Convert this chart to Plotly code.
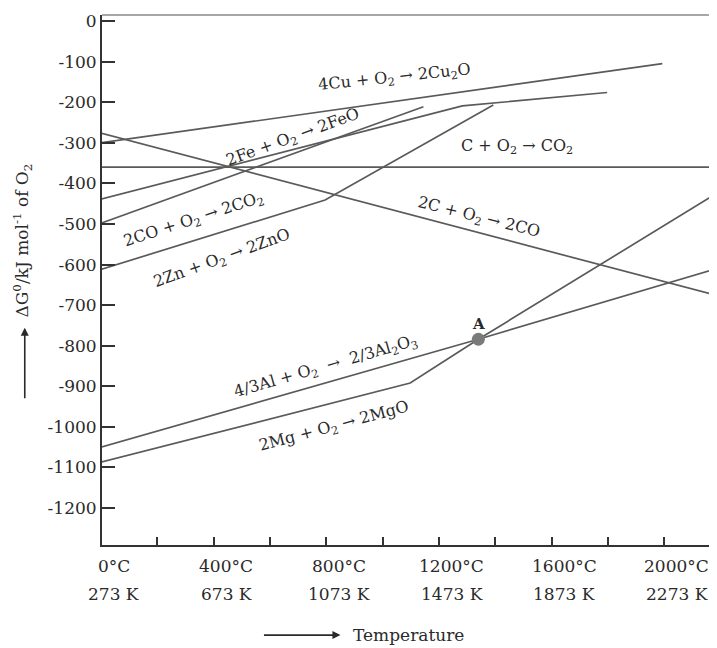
import plotly.graph_objects as go

# ---------------- data (temperature in °C, ΔG° in kJ mol-1 of O2) ----------------
cu_T = [0, 1993]
cu_G = [-300, -105]

fe_T = [0, 1283, 1797]
fe_G = [-439, -209, -176]

c_co2_T = [0, 2180]
c_co2_G = [-360, -360]

c_co_T = [0, 2180]
c_co_G = [-276, -675]

co_T = [0, 1145]
co_G = [-498, -211]

zn_T = [0, 796, 1393]
zn_G = [-612, -441, -207]

al_T = [0, 1340, 2180]
al_G = [-1050, -784, -611]

mg_T = [0, 1098, 1340, 2180]
mg_G = [-1087, -892, -784, -427]

point_A_T = [1340]
point_A_G = [-784]

y_ticks = [0, -100, -200, -300, -400, -500, -600, -700, -800, -900, -1000, -1100, -1200]
y_ticktext = ["0", "-100", "-200", "-300", "-400", "-500", "-600", "-700", "-800",
              "-900", "-1000", "-1100", "-1200"]
x_minor_ticks = [200, 400, 600, 800, 1000, 1200, 1400, 1600, 1800, 2000]
x_label_T = [0, 400, 800, 1200, 1600, 2000]
x_label_C = ["0°C", "400°C", "800°C", "1200°C", "1600°C", "2000°C"]
x_label_K = ["273 K", "673 K", "1073 K", "1473 K", "1873 K", "2273 K"]

NB = "\u00a0"
reaction_labels = [
    "4Cu + O<sub>2</sub> → 2Cu<sub>2</sub>O",
    "2Fe + O<sub>2</sub> → 2FeO",
    "C + O<sub>2</sub> → CO<sub>2</sub>",
    "2C + O<sub>2</sub> → 2CO",
    "2CO + O<sub>2</sub> → 2CO<sub>2</sub>",
    "2Zn + O<sub>2</sub> → 2ZnO",
    "4/3Al + O<sub>2</sub>" + NB * 2 + "→" + NB * 2 + "2/3Al<sub>2</sub>O<sub>3</sub>",
    "2Mg + O<sub>2</sub>" + NB + "→" + NB + "2MgO",
]
# label anchor positions (°C, kJ) and angles -- styling/placement
label_pos = [(1044, -140, -6), (682, -288, -20), (1477, -310, 0), (1342, -485, 14),
             (331, -490, -18), (430, -584, -20), (799, -852, -16), (828, -1000, -15)]

FONT = "DejaVu Serif"
LINE_COLOR = "#5a5a5a"
TEXT_COLOR = "#2a2a2a"

fig = go.Figure()
for T, G in [(cu_T, cu_G), (fe_T, fe_G), (c_co2_T, c_co2_G), (c_co_T, c_co_G),
             (co_T, co_G), (zn_T, zn_G), (al_T, al_G), (mg_T, mg_G)]:
    fig.add_trace(go.Scatter(x=T, y=G, mode="lines",
                             line=dict(color=LINE_COLOR, width=1.7),
                             showlegend=False, hoverinfo="skip"))

fig.add_trace(go.Scatter(x=point_A_T, y=point_A_G, mode="markers",
                         marker=dict(size=13, color="#7a7a7a"),
                         showlegend=False, hoverinfo="skip"))

annotations = []
for text, (x, y, ang) in zip(reaction_labels, label_pos):
    annotations.append(dict(x=x, y=y, xref="x", yref="y", text=text, showarrow=False,
                            textangle=ang, font=dict(family=FONT, size=16, color=TEXT_COLOR)))

annotations.append(dict(x=point_A_T[0], y=point_A_G[0] + 38, xref="x", yref="y",
                        text="<b>A</b>", showarrow=False,
                        font=dict(family=FONT, size=15, color=TEXT_COLOR)))

# x tick labels (two rows)
for t, c, k in zip(x_label_T, x_label_C, x_label_K):
    annotations.append(dict(x=t + 45, y=-0.040, xref="x", yref="paper", text=c,
                            showarrow=False, xanchor="center", yanchor="middle",
                            font=dict(family=FONT, size=17, color=TEXT_COLOR)))
    annotations.append(dict(x=t + 45, y=-0.093, xref="x", yref="paper", text=k,
                            showarrow=False, xanchor="center", yanchor="middle",
                            font=dict(family=FONT, size=17, color=TEXT_COLOR)))

# y axis title with arrow
annotations.append(dict(x=-0.130, y=0.575, xref="paper", yref="paper",
                        text="ΔG<sup>0</sup>/kJ mol<sup>-1</sup> of O<sub>2</sub>",
                        showarrow=False, textangle=-90, xanchor="center", yanchor="middle",
                        font=dict(family=FONT, size=17, color=TEXT_COLOR)))
annotations.append(dict(x=-0.126, y=0.410, xref="paper", yref="paper", text="",
                        showarrow=True, ax=0, ay=72,
                        arrowhead=2, arrowsize=1, arrowwidth=1.6, arrowcolor=TEXT_COLOR))

# x axis title with arrow
annotations.append(dict(x=0.500, y=-0.170, xref="paper", yref="paper",
                        text="Temperature", showarrow=False, xanchor="center", yanchor="middle",
                        font=dict(family=FONT, size=17, color=TEXT_COLOR)))
annotations.append(dict(x=0.389, y=-0.170, xref="paper", yref="paper", text="",
                        showarrow=True, ax=-78, ay=0,
                        arrowhead=2, arrowsize=1, arrowwidth=1.6, arrowcolor=TEXT_COLOR))

# the page body adds an 8px margin, so the figure is sized to fit the 717x648 window
fig.update_layout(
    width=709, height=640,
    margin=dict(l=94, r=2, t=7, b=103),
    paper_bgcolor="white", plot_bgcolor="white",
    annotations=annotations,
    shapes=[
        dict(type="line", xref="paper", yref="paper", x0=0, x1=1, y0=1, y1=1,
             line=dict(color="#8a8a8a", width=1.5)),
        dict(type="line", xref="paper", yref="paper", x0=1, x1=1, y0=0, y1=1,
             line=dict(color="#b0b0b0", width=1.2)),
    ],
    xaxis=dict(range=[4, 2180], showgrid=False, zeroline=False,
               showline=True, linecolor="#333", linewidth=2,
               tickvals=x_minor_ticks, ticktext=[""] * len(x_minor_ticks),
               ticks="inside", ticklen=8, tickwidth=2, tickcolor="#333"),
    yaxis=dict(range=[-1291, 15], showgrid=False, zeroline=False,
               showline=True, linecolor="#333", linewidth=2,
               tickvals=y_ticks, ticktext=y_ticktext,
               ticks="inside", ticklen=13, tickwidth=2, tickcolor="#333",
               tickfont=dict(family=FONT, size=17, color=TEXT_COLOR)),
)

fig.write_html("out.html")
